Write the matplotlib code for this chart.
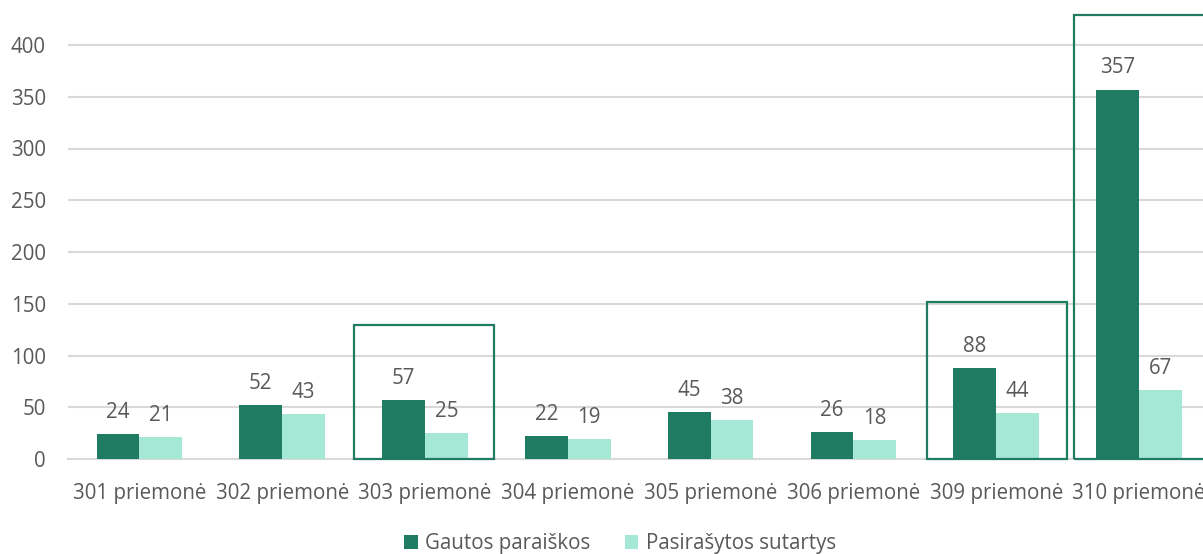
import matplotlib
matplotlib.use("Agg")
import matplotlib.pyplot as plt
from matplotlib.patches import Rectangle
import numpy as np

categories = ["301 priemonė", "302 priemonė", "303 priemonė", "304 priemonė",
              "305 priemonė", "306 priemonė", "309 priemonė", "310 priemonė"]
gautos = [24, 52, 57, 22, 45, 26, 88, 357]
pasirasytos = [21, 43, 25, 19, 38, 18, 44, 67]
series_names = ["Gautos paraiškos", "Pasirašytos sutartys"]
yticks = [0, 50, 100, 150, 200, 250, 300, 350, 400]

# highlighted categories: (x0, x1, top) in data units
highlights = [(1.50, 2.48, 129.5), (5.515, 6.496, 151.7), (6.545, 7.6, 429)]

dark = "#1F7B62"
light = "#A6E8D6"
text_col = "#595959"
grid_col = "#D9D9D9"
FONT = "Open Sans"
FS = 14.8

W, H = 1203, 554
fig = plt.figure(figsize=(W / 100, H / 100), dpi=100)
left_px, right_px = 68, 1210.4
bottom_px = 459
ax = fig.add_axes([left_px / W, (H - bottom_px) / H, (right_px - left_px) / W, bottom_px / H])
ax.set_xlim(-0.5, 7.5)
ax.set_ylim(0, bottom_px / 1.035)

x = np.arange(len(categories))
bw = 0.3
b1 = ax.bar(x - bw / 2, gautos, bw, color=dark, label=series_names[0], zorder=3)
b2 = ax.bar(x + bw / 2, pasirasytos, bw, color=light, label=series_names[1], zorder=3)

for bars, vals in ((b1, gautos), (b2, pasirasytos)):
    for r, v in zip(bars, vals):
        ax.annotate(str(v), (r.get_x() + r.get_width() / 2, v), xytext=(0, 8),
                    textcoords="offset points", ha="center", va="bottom",
                    fontsize=FS, color=text_col, family=FONT)

for x0, x1, top in highlights:
    ax.add_patch(Rectangle((x0, 0), x1 - x0, top, fill=False, edgecolor=dark,
                           linewidth=1.6, clip_on=False, zorder=4))

ax.set_yticks(yticks)
ax.yaxis.grid(True, color=grid_col, linewidth=1.5, zorder=0)
ax.set_axisbelow(True)
ax.set_xticks(x)
ax.set_xticklabels(categories)
for s in ["top", "right", "left"]:
    ax.spines[s].set_visible(False)
ax.spines["bottom"].set_color(grid_col)
ax.spines["bottom"].set_linewidth(1.5)
ax.tick_params(axis="both", length=0, labelsize=FS, labelcolor=text_col)
ax.tick_params(axis="y", pad=16)
ax.tick_params(axis="x", pad=17)
for lab in ax.get_xticklabels() + ax.get_yticklabels():
    lab.set_family(FONT)

leg = fig.legend(loc="center", bbox_to_anchor=(620 / W, 10 / H), ncol=2, frameon=False,
                 prop={"family": FONT, "size": FS}, handlelength=0.65, handleheight=0.65,
                 handletextpad=0.35, columnspacing=1.7)
for t in leg.get_texts():
    t.set_color(text_col)

fig.savefig("out.png", dpi=100)
